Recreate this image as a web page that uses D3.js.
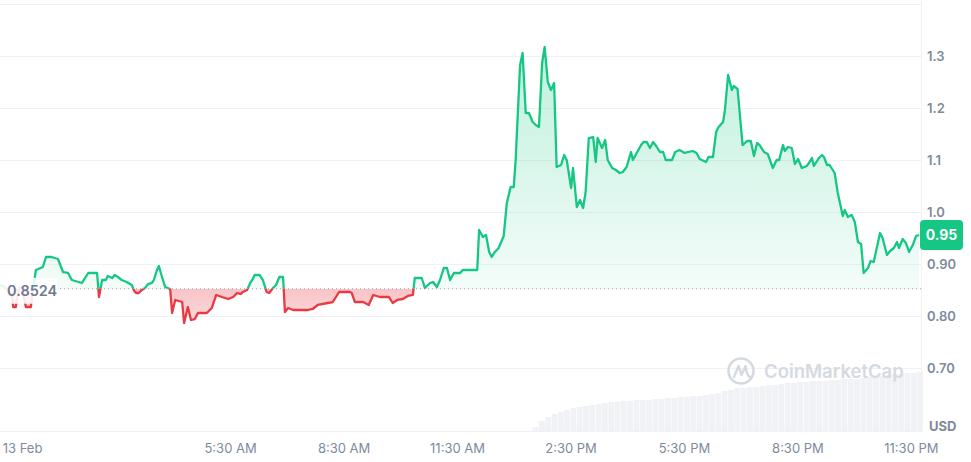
<!DOCTYPE html>
<html><head><meta charset="utf-8">
<script src="https://cdn.jsdelivr.net/npm/d3@7"></script>
<style>
body{margin:0;background:#fff;}
svg{display:block;font-family:Inter,"Noto Sans",sans-serif;}
</style>
</head><body>
<svg id="chart" width="971" height="462"></svg>
<script>
// ---------- DATA ----------
const startTime = new Date(2024, 1, 12, 23, 25);
const endTime = new Date(2024, 1, 13, 23, 46);
// minutes after startTime
const minutes = [0,8,19,21,25,30,35,41,49,52,57,68,73,82,92,100,108,114,130,140,154,157,162,168,171,178,182,187,193,201,209,213,216,220,225,230,235,241,244,249,252,257,262,270,273,278,289,292,298,303,309,314,328,336,343,352,362,370,376,382,385,392,397,401,404,412,417,423,427,433,438,443,449,452,457,465,487,496,504,520,528,538,555,558,563,576,585,592,603,617,623,630,639,647,655,658,669,674,682,687,693,698,704,709,714,720,730,734,757,760,766,771,776,780,785,791,799,804,810,815,818,825,829,834,839,845,850,855,860,864,869,874,879,883,890,895,899,906,909,915,920,925,929,934,941,945,948,955,960,964,971,977,983,988,994,1001,1004,1010,1017,1021,1026,1031,1036,1042,1047,1052,1056,1066,1071,1078,1086,1099,1105,1110,1120,1124,1131,1136,1140,1147,1150,1155,1161,1164,1170,1178,1185,1191,1196,1201,1205,1212,1218,1226,1232,1236,1242,1245,1250,1256,1261,1266,1272,1280,1283,1288,1291,1299,1304,1307,1312,1316,1324,1329,1337,1340,1345,1351,1356,1361,1366,1370,1377,1381,1386,1396,1400,1407,1412,1418,1423,1426,1432,1437,1442,1448,1453,1458];
const prices = [0.8596,0.8558,0.8400,0.8173,0.8173,0.8538,0.8558,0.8173,0.8173,0.8500,0.8885,0.8942,0.9135,0.9135,0.9096,0.8846,0.8827,0.8692,0.8635,0.8827,0.8827,0.8365,0.8692,0.8692,0.8769,0.8731,0.8788,0.8750,0.8692,0.8654,0.8596,0.8481,0.8442,0.8442,0.8500,0.8538,0.8615,0.8635,0.8692,0.8885,0.8962,0.8750,0.8558,0.8519,0.8058,0.8308,0.8269,0.7865,0.8173,0.7923,0.7942,0.8058,0.8058,0.8154,0.8404,0.8365,0.8327,0.8365,0.8442,0.8423,0.8462,0.8500,0.8635,0.8712,0.8788,0.8788,0.8692,0.8462,0.8442,0.8538,0.8596,0.8750,0.8750,0.8077,0.8154,0.8115,0.8115,0.8135,0.8212,0.8250,0.8269,0.8462,0.8462,0.8442,0.8269,0.8269,0.8212,0.8404,0.8365,0.8365,0.8250,0.8308,0.8327,0.8385,0.8404,0.8731,0.8731,0.8538,0.8635,0.8654,0.8558,0.8692,0.8923,0.8923,0.8692,0.8827,0.8827,0.8885,0.8885,0.9654,0.9519,0.9558,0.9231,0.9135,0.9231,0.9308,0.9538,1.0173,1.0481,1.0481,1.1000,1.2827,1.3058,1.1904,1.1904,1.1731,1.1673,1.1635,1.2865,1.3173,1.2500,1.2346,1.2481,1.0865,1.0904,1.1096,1.1000,1.0462,1.0846,1.0096,1.0231,1.0077,1.0385,1.1423,1.1442,1.0962,1.1423,1.1231,1.1385,1.1000,1.0846,1.0808,1.0750,1.0769,1.0865,1.1154,1.1000,1.1135,1.1288,1.1346,1.1346,1.1231,1.1346,1.1250,1.1154,1.1154,1.1000,1.1000,1.1154,1.1192,1.1135,1.1173,1.1135,1.1019,1.0962,1.1058,1.1058,1.1538,1.1635,1.1731,1.1962,1.2635,1.2346,1.2423,1.2365,1.1288,1.1365,1.1365,1.1077,1.1327,1.1288,1.1154,1.1115,1.0846,1.1000,1.1000,1.1288,1.1173,1.1250,1.1231,1.0923,1.1019,1.0846,1.0885,1.0942,1.1038,1.0885,1.1038,1.1096,1.1058,1.0904,1.0904,1.0750,1.0365,0.9923,1.0038,0.9904,0.9942,0.9808,0.9423,0.9385,0.8827,0.8923,0.9058,0.9038,0.9596,0.9500,0.9173,0.9250,0.9308,0.9423,0.9308,0.9481,0.9404,0.9231,0.9365,0.9538,0.9558];
const baselinePrice = 0.8524;
const baselineLabel = "0.8524";
const lastPriceLabel = "0.95";
const gridValues = [0.7, 0.8, 0.9, 1.0, 1.1, 1.2, 1.3, 1.4];
const yTickValues = [0.7, 0.8, 0.9, 1.0, 1.1, 1.2, 1.3];
const yTickLabels = ["0.70", "0.80", "0.90", "1.0", "1.1", "1.2", "1.3"];
const xTickTimes = [[13,0,0],[13,5,30],[13,8,30],[13,11,30],[13,14,30],[13,17,30],[13,20,30],[13,23,30]];
const xTickLabels = ["13 Feb", "5:30 AM", "8:30 AM", "11:30 AM", "2:30 PM", "5:30 PM", "8:30 PM", "11:30 PM"];
const volStart = new Date(2024, 1, 13, 13, 30);
const volStepMin = 10;
const volumes = [4,10,14,17,19,21,23,24,25,26,27,28,29,29,30,30,31,31,31,32,32,33,33,34,34,35,35,36,37,38,40,41,43,43,44,44,45,46,46,47,48,48,49,49,50,50,50,51,51,52,52,52,53,54,54,55,56,57,57,58,58,59];
const currency = "USD";

// ---------- SETUP ----------
const W = 971, H = 462, plotRight = 921, axisY = 431;
const GREEN = "#16c784", RED = "#ea3943";
const svg = d3.select("#chart");
const data = minutes.map((m, i) => ({ t: d3.timeMinute.offset(startTime, m), p: prices[i] }));

const x = d3.scaleTime().domain([startTime, endTime]).range([0, plotRight]);
const y = d3.scaleLinear().domain([0.7, 1.3]).range([368, 56]);
const v = d3.scaleLinear().domain([0, 100]).range([axisY, axisY - 100]);
const yb = y(baselinePrice);

const defs = svg.append("defs");
defs.append("clipPath").attr("id", "above").append("rect")
  .attr("x", 0).attr("y", 0).attr("width", plotRight).attr("height", yb);
defs.append("clipPath").attr("id", "below").append("rect")
  .attr("x", 0).attr("y", yb).attr("width", plotRight).attr("height", H - yb);

const gg = defs.append("linearGradient").attr("id", "gGreen")
  .attr("gradientUnits", "userSpaceOnUse").attr("x1", 0).attr("x2", 0)
  .attr("y1", y(d3.max(prices))).attr("y2", yb);
gg.append("stop").attr("offset", 0).attr("stop-color", GREEN).attr("stop-opacity", 0.27);
gg.append("stop").attr("offset", 1).attr("stop-color", GREEN).attr("stop-opacity", 0.05);
const gr = defs.append("linearGradient").attr("id", "gRed")
  .attr("gradientUnits", "userSpaceOnUse").attr("x1", 0).attr("x2", 0)
  .attr("y1", yb).attr("y2", y(d3.min(prices)));
gr.append("stop").attr("offset", 0).attr("stop-color", RED).attr("stop-opacity", 0.3);
gr.append("stop").attr("offset", 1).attr("stop-color", RED).attr("stop-opacity", 0.18);

// grid
svg.append("g").selectAll("line").data(gridValues).join("line")
  .attr("x1", 0).attr("x2", plotRight)
  .attr("y1", d => Math.round(y(d)) + 0.5).attr("y2", d => Math.round(y(d)) + 0.5)
  .attr("stroke", "#eff2f5").attr("stroke-width", 1);
svg.append("line").attr("x1", plotRight + 0.5).attr("x2", plotRight + 0.5)
  .attr("y1", 0).attr("y2", axisY + 1).attr("stroke", "#eff2f5");
svg.append("line").attr("x1", 0).attr("x2", plotRight)
  .attr("y1", axisY + 0.5).attr("y2", axisY + 0.5).attr("stroke", "#eff2f5");

// volume bars
const vdata = volumes.map((val, i) => ({ t: d3.timeMinute.offset(volStart, i * volStepMin), v: val }));
const bw = x(d3.timeMinute.offset(volStart, volStepMin)) - x(volStart);
svg.append("g").selectAll("rect").data(vdata).join("rect")
  .attr("x", d => x(d.t)).attr("width", bw - 0.5)
  .attr("y", d => v(d.v)).attr("height", d => v(0) - v(d.v))
  .attr("fill", "#f0f2f5");

// watermark
const wm = svg.append("g").attr("fill", "none").attr("stroke", "#d5dae1");
wm.append("circle").attr("cx", 741).attr("cy", 371).attr("r", 12.5).attr("stroke-width", 2.6);
wm.append("path").attr("d", "M734,377 L738.5,366 L741.5,375 L745.5,366 Q747,376 750,377")
  .attr("stroke-width", 2.4).attr("stroke-linejoin", "round").attr("stroke-linecap", "round");
svg.append("text").attr("x", 764).attr("y", 378).text("CoinMarketCap")
  .attr("fill", "#d5dae1").attr("font-size", 18.5).attr("font-weight", 600);

// areas
const area = d3.area().x(d => x(d.t)).y0(yb).y1(d => y(d.p));
svg.append("path").datum(data).attr("d", area).attr("fill", "url(#gGreen)").attr("clip-path", "url(#above)");
svg.append("path").datum(data).attr("d", area).attr("fill", "url(#gRed)").attr("clip-path", "url(#below)");

// baseline
svg.append("line").attr("x1", 0).attr("x2", plotRight).attr("y1", yb).attr("y2", yb)
  .attr("stroke", "#9aa2b3").attr("stroke-width", 1).attr("stroke-dasharray", "1,3");

// lines
const line = d3.line().x(d => x(d.t)).y(d => y(d.p));
svg.append("path").datum(data).attr("d", line).attr("fill", "none").attr("stroke", GREEN)
  .attr("stroke-width", 2.3).attr("stroke-linejoin", "round").attr("clip-path", "url(#above)");
svg.append("path").datum(data).attr("d", line).attr("fill", "none").attr("stroke", RED)
  .attr("stroke-width", 2.3).attr("stroke-linejoin", "round").attr("clip-path", "url(#below)");

// baseline label
svg.append("rect").attr("x", 0).attr("y", yb - 11).attr("width", 57).attr("height", 26)
  .attr("fill", "#fff").attr("opacity", 0.88);
svg.append("text").attr("x", 7).attr("y", yb + 7.5).text(baselineLabel)
  .attr("fill", "#6f7a8f").attr("font-size", 14.5).attr("font-weight", 600);

// y axis labels
const yAxis = d3.axisRight(y).tickValues(yTickValues)
  .tickFormat((d, i) => yTickLabels[i]).tickSize(0).tickPadding(6);
const ya = svg.append("g").attr("transform", `translate(${plotRight},0)`).call(yAxis);
ya.select(".domain").remove();
ya.selectAll("text").attr("fill", "#808a9d").attr("font-size", 13).attr("font-weight", 600)
  .attr("font-family", "Inter, 'Noto Sans', sans-serif");

// x axis labels
const xTicks = xTickTimes.map(([d, h, m]) => new Date(2024, 1, d, h, m));
const xAxis = d3.axisBottom(x).tickValues(xTicks)
  .tickFormat((d, i) => xTickLabels[i]).tickSize(0).tickPadding(0);
const xa = svg.append("g").attr("transform", `translate(0,${axisY + 13})`).call(xAxis);
xa.select(".domain").remove();
xa.selectAll("text").attr("fill", "#808a9d").attr("font-size", 13).attr("font-weight", 400)
  .attr("font-family", "Inter, 'Noto Sans', sans-serif");

// currency label
svg.append("text").attr("x", 929).attr("y", 431).text(currency)
  .attr("fill", "#808a9d").attr("font-size", 13).attr("font-weight", 700);

// last price badge
const lastY = y(prices[prices.length - 1]);
svg.append("rect").attr("x", plotRight - 1).attr("y", lastY - 15).attr("width", 43).attr("height", 30)
  .attr("rx", 4).attr("fill", GREEN);
svg.append("text").attr("x", plotRight + 20.5).attr("y", lastY + 5).attr("text-anchor", "middle")
  .text(lastPriceLabel).attr("fill", "#fff").attr("font-size", 14).attr("font-weight", 700);
</script>
</body></html>
